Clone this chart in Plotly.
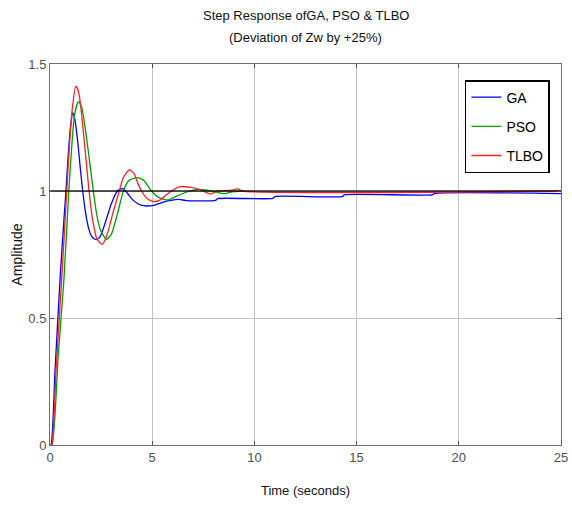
import plotly.graph_objects as go

# ---- data ----
ga_t = [0, 0.05, 0.25, 0.49, 0.65, 0.78, 0.9, 1.0, 1.11, 1.22, 1.35, 1.47, 1.6, 1.75, 1.9,
        2.05, 2.2, 2.32, 2.45, 2.6, 2.8, 3.0, 3.3, 3.55, 3.8, 4.05, 4.3, 4.5, 4.73, 5.06,
        5.5, 5.9, 6.3, 6.7, 8.1, 8.2, 10.9, 11.0, 14.3, 14.4, 18.7, 18.8, 25]
ga_y = [0, 0.0, 0.3, 0.65, 0.85, 1.0, 1.15, 1.25, 1.308, 1.28, 1.2, 1.1, 1.0, 0.91, 0.85,
        0.82, 0.81, 0.81, 0.82, 0.85, 0.9, 0.95, 1.0, 1.009, 0.99, 0.965, 0.95, 0.943, 0.941, 0.943,
        0.955, 0.963, 0.967, 0.962, 0.963, 0.970, 0.971, 0.978, 0.978, 0.985, 0.985, 0.990, 0.990]

pso_t = [0, 0.1, 0.4, 0.68, 0.92, 1.05, 1.2, 1.39, 1.55, 1.7, 1.9, 2.12, 2.3, 2.5, 2.77,
         3.0, 3.3, 3.59, 3.85, 4.1, 4.35, 4.6, 4.97, 5.3, 5.79, 6.2, 6.85, 7.2, 7.6, 8.0,
         8.56, 8.9, 9.46]
pso_y = [0, 0, 0.35, 0.65, 1.0, 1.16, 1.3, 1.352, 1.33, 1.26, 1.14, 1.0, 0.9, 0.84, 0.81,
         0.83, 0.91, 1.0, 1.04, 1.05, 1.052, 1.04, 1.0, 0.975, 0.965, 0.98, 1.0, 1.006, 1.004, 0.998,
         0.99, 0.997, 1.0]

tlbo_t = [0, 0.08, 0.3, 0.57, 0.82, 0.95, 1.1, 1.26, 1.4, 1.55, 1.72, 1.91, 2.1, 2.3, 2.56,
          2.8, 3.1, 3.39, 3.6, 3.88, 4.1, 4.3, 4.48, 4.75, 5.06, 5.4, 5.7, 5.95, 6.36, 6.85,
          7.4, 7.83, 8.2, 8.8, 9.2, 9.4, 25]
tlbo_y = [0, 0, 0.3, 0.65, 1.0, 1.18, 1.33, 1.413, 1.39, 1.3, 1.16, 1.0, 0.88, 0.81, 0.79,
          0.83, 0.92, 1.0, 1.055, 1.083, 1.07, 1.03, 1.0, 0.97, 0.958, 0.965, 0.985, 1.0, 1.017, 1.015,
          1.004, 0.988, 1.0, 1.002, 1.008, 1.0, 1.0]

ref_t = [0, 25]
ref_y = [1, 1]

x_ticks = [0, 5, 10, 15, 20, 25]
y_ticks = [0, 0.5, 1, 1.5]
y_tick_text = ["0", "0.5", "1", "1.5"]

title_line1 = "Step Response ofGA, PSO &amp; TLBO"
title_line2 = "(Deviation of Zw by +25%)"

FONT = "Liberation Sans, Arial"

fig = go.Figure()
fig.add_trace(go.Scatter(x=ga_t, y=ga_y, mode="lines", name="GA", legendgroup="ga",
                         line=dict(color="#0000ff", width=1.3, shape="spline", smoothing=0.6)))
fig.add_trace(go.Scatter(x=pso_t, y=pso_y, mode="lines", name="PSO", legendgroup="pso",
                         line=dict(color="#00a000", width=1.3, shape="spline", smoothing=0.6)))
fig.add_trace(go.Scatter(x=tlbo_t, y=tlbo_y, mode="lines", name="TLBO", legendgroup="tlbo",
                         line=dict(color="#ff2020", width=1.3, shape="spline", smoothing=0.6)))
fig.add_trace(go.Scatter(x=ref_t, y=ref_y, mode="lines", showlegend=False, hoverinfo="skip",
                         line=dict(color="rgba(0,0,0,0.65)", width=2)))

axis_common = dict(
    showline=True, linecolor="#707070", linewidth=1, mirror="ticks",
    ticks="inside", ticklen=4, tickcolor="#505050",
    showgrid=True, gridcolor="#c4c4c4", gridwidth=1,
    zeroline=False, automargin=False,
    tickfont=dict(family=FONT, size=13, color="#505050"),
)

fig.update_xaxes(range=[0, 25], tickvals=x_ticks,
                 title=dict(text="Time (seconds)", font=dict(family=FONT, size=13, color="#111111"),
                            standoff=22),
                 **axis_common)
fig.update_yaxes(range=[0, 1.5], tickvals=y_ticks, ticktext=y_tick_text,
                 title=dict(text="Amplitude", font=dict(family=FONT, size=14, color="#111111"),
                            standoff=2),
                 **axis_common)

fig.update_layout(
    width=572, height=506,
    margin=dict(l=50, r=11, t=64, b=61),
    paper_bgcolor="white", plot_bgcolor="white",
    annotations=[
        dict(text=title_line1, xref="paper", yref="paper", x=0.5, y=1.0, yshift=49,
             xanchor="center", yanchor="middle", showarrow=False,
             font=dict(family=FONT, size=13, color="#111111")),
        dict(text=title_line2, xref="paper", yref="paper", x=0.5, y=1.0, yshift=27,
             xanchor="center", yanchor="middle", showarrow=False,
             font=dict(family=FONT, size=13, color="#111111")),
    ],
    legend=dict(x=0.812, y=0.958, xanchor="left", yanchor="top",
                bgcolor="white", bordercolor="#000000", borderwidth=1.5,
                font=dict(family=FONT, size=14, color="#000000"),
                tracegroupgap=8),
    showlegend=True,
)

fig.write_html("out.html", config={"displayModeBar": False},
               post_script="document.body.style.margin='0';document.body.style.overflow='hidden';")
